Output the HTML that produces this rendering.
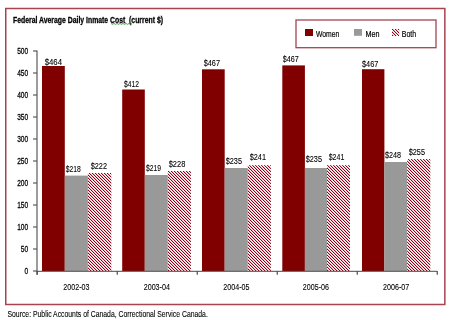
<!DOCTYPE html>
<html><head><meta charset="utf-8"><style>
html,body{margin:0;padding:0;background:#fff;width:450px;height:320px;overflow:hidden}
svg{display:block;will-change:transform}
text{font-family:"Liberation Sans",sans-serif}
</style></head><body>
<svg width="450" height="320" viewBox="0 0 450 320">
<defs>
<pattern id="hatch" patternUnits="userSpaceOnUse" width="3" height="3">
<rect width="3" height="3" fill="#ffffff"/>
<g shape-rendering="crispEdges">
<rect x="2" y="0" width="1" height="1" fill="#8c0018"/><rect x="0" y="1" width="1" height="1" fill="#8c0018"/><rect x="1" y="2" width="1" height="1" fill="#8c0018"/>
<rect x="0" y="0" width="1" height="1" fill="#eebcc1"/><rect x="1" y="1" width="1" height="1" fill="#eebcc1"/><rect x="2" y="2" width="1" height="1" fill="#eebcc1"/>
</g>
</pattern>
<pattern id="hatch2" href="#hatch" patternTransform="translate(1,0)"/>
</defs>
<rect x="5.75" y="8.5" width="439.1" height="296" fill="none" stroke="#a8434f" stroke-width="1.5"/>
<text x="13" y="22.6" stroke="#000" stroke-width="0.3" font-weight="bold" font-size="9" fill="#000" textLength="150" lengthAdjust="spacingAndGlyphs">Federal Average Daily Inmate Cost&#160; (current $)</text>
<path d="M111,23.5 L112.5,24.3 L114.0,23.5 L115.5,24.3 L117.0,23.5 L118.5,24.3 L120.0,23.5 L121.5,24.3 L123.0,23.5 L124.5,24.3 L126.0,23.5 L127.5,24.3 L129.0,23.5 L130.5,24.3 L132.0,23.5" fill="none" stroke="#3c963c" stroke-width="0.9"/>
<rect x="296" y="20" width="140" height="27.7" fill="none" stroke="#a04552" stroke-width="1.3"/>
<rect x="305" y="29" width="8" height="7" fill="#800000"/>
<rect x="354" y="29" width="8" height="6.8" fill="#999"/>
<rect x="392" y="29" width="7.2" height="7" fill="url(#hatch2)"/>
<text x="316" y="37" stroke="#000" stroke-width="0.18" font-size="8.4" textLength="23.3" lengthAdjust="spacingAndGlyphs">Women</text>
<text x="365.5" y="37" stroke="#000" stroke-width="0.18" font-size="8.4" textLength="14" lengthAdjust="spacingAndGlyphs">Men</text>
<text x="401.8" y="37" stroke="#000" stroke-width="0.18" font-size="8.4" textLength="14.4" lengthAdjust="spacingAndGlyphs">Both</text>
<line x1="37" y1="50.4" x2="37" y2="274.8" stroke="#5a5a5a" stroke-width="1.2"/>
<line x1="33" y1="51" x2="37" y2="51" stroke="#5a5a5a" stroke-width="1.2"/>
<text x="28.2" y="54.3" stroke="#000" stroke-width="0.26" font-size="8.6" text-anchor="end" textLength="11.0" lengthAdjust="spacingAndGlyphs">500</text>
<line x1="33" y1="73" x2="37" y2="73" stroke="#5a5a5a" stroke-width="1.2"/>
<text x="28.2" y="76.3" stroke="#000" stroke-width="0.26" font-size="8.6" text-anchor="end" textLength="11.0" lengthAdjust="spacingAndGlyphs">450</text>
<line x1="33" y1="95" x2="37" y2="95" stroke="#5a5a5a" stroke-width="1.2"/>
<text x="28.2" y="98.3" stroke="#000" stroke-width="0.26" font-size="8.6" text-anchor="end" textLength="11.0" lengthAdjust="spacingAndGlyphs">400</text>
<line x1="33" y1="117" x2="37" y2="117" stroke="#5a5a5a" stroke-width="1.2"/>
<text x="28.2" y="120.3" stroke="#000" stroke-width="0.26" font-size="8.6" text-anchor="end" textLength="11.0" lengthAdjust="spacingAndGlyphs">350</text>
<line x1="33" y1="139" x2="37" y2="139" stroke="#5a5a5a" stroke-width="1.2"/>
<text x="28.2" y="142.3" stroke="#000" stroke-width="0.26" font-size="8.6" text-anchor="end" textLength="11.0" lengthAdjust="spacingAndGlyphs">300</text>
<line x1="33" y1="161" x2="37" y2="161" stroke="#5a5a5a" stroke-width="1.2"/>
<text x="28.2" y="164.3" stroke="#000" stroke-width="0.26" font-size="8.6" text-anchor="end" textLength="11.0" lengthAdjust="spacingAndGlyphs">250</text>
<line x1="33" y1="183" x2="37" y2="183" stroke="#5a5a5a" stroke-width="1.2"/>
<text x="28.2" y="186.3" stroke="#000" stroke-width="0.26" font-size="8.6" text-anchor="end" textLength="11.0" lengthAdjust="spacingAndGlyphs">200</text>
<line x1="33" y1="205" x2="37" y2="205" stroke="#5a5a5a" stroke-width="1.2"/>
<text x="28.2" y="208.3" stroke="#000" stroke-width="0.26" font-size="8.6" text-anchor="end" textLength="11.0" lengthAdjust="spacingAndGlyphs">150</text>
<line x1="33" y1="227" x2="37" y2="227" stroke="#5a5a5a" stroke-width="1.2"/>
<text x="28.2" y="230.3" stroke="#000" stroke-width="0.26" font-size="8.6" text-anchor="end" textLength="11.0" lengthAdjust="spacingAndGlyphs">100</text>
<line x1="33" y1="249" x2="37" y2="249" stroke="#5a5a5a" stroke-width="1.2"/>
<text x="28.2" y="252.3" stroke="#000" stroke-width="0.26" font-size="8.6" text-anchor="end" textLength="7.4" lengthAdjust="spacingAndGlyphs">50</text>
<line x1="33" y1="271" x2="37" y2="271" stroke="#5a5a5a" stroke-width="1.2"/>
<text x="28.2" y="274.3" stroke="#000" stroke-width="0.26" font-size="8.6" text-anchor="end" textLength="3.7" lengthAdjust="spacingAndGlyphs">0</text>
<rect x="42" y="66" width="22.80" height="205.00" fill="#800000"/>
<rect x="64.8" y="175.6" width="23.10" height="95.40" fill="#999"/>
<rect x="87.9" y="173" width="23.40" height="98.00" fill="url(#hatch2)"/>
<text x="44.70" y="64.70" stroke="#000" stroke-width="0.1" font-size="8.4" textLength="17.30" lengthAdjust="spacingAndGlyphs">$464</text>
<text x="65.70" y="171.50" stroke="#000" stroke-width="0.1" font-size="8.4" textLength="15.05" lengthAdjust="spacingAndGlyphs">$218</text>
<text x="90.70" y="168.70" stroke="#000" stroke-width="0.1" font-size="8.4" textLength="16.30" lengthAdjust="spacingAndGlyphs">$222</text>
<text x="76.4" y="289.8" stroke="#000" stroke-width="0.1" font-size="9" text-anchor="middle" textLength="26.2" lengthAdjust="spacingAndGlyphs">2002-03</text>
<rect x="122.2" y="89.5" width="22.60" height="181.50" fill="#800000"/>
<rect x="144.8" y="175" width="23.00" height="96.00" fill="#999"/>
<rect x="167.8" y="171" width="23.10" height="100.00" fill="url(#hatch2)"/>
<text x="124.00" y="86.70" stroke="#000" stroke-width="0.1" font-size="8.4" textLength="15.00" lengthAdjust="spacingAndGlyphs">$412</text>
<text x="146.00" y="170.70" stroke="#000" stroke-width="0.1" font-size="8.4" textLength="15.00" lengthAdjust="spacingAndGlyphs">$219</text>
<text x="168.70" y="166.70" stroke="#000" stroke-width="0.1" font-size="8.4" textLength="16.60" lengthAdjust="spacingAndGlyphs">$228</text>
<text x="156.8" y="289.8" stroke="#000" stroke-width="0.1" font-size="9" text-anchor="middle" textLength="26.2" lengthAdjust="spacingAndGlyphs">2003-04</text>
<rect x="202" y="69.3" width="22.70" height="201.70" fill="#800000"/>
<rect x="224.7" y="168" width="23.10" height="103.00" fill="#999"/>
<rect x="247.8" y="165.2" width="23.10" height="105.80" fill="url(#hatch2)"/>
<text x="203.70" y="66.00" stroke="#000" stroke-width="0.1" font-size="8.4" textLength="16.30" lengthAdjust="spacingAndGlyphs">$467</text>
<text x="225.70" y="163.50" stroke="#000" stroke-width="0.1" font-size="8.4" textLength="16.30" lengthAdjust="spacingAndGlyphs">$235</text>
<text x="249.70" y="159.80" stroke="#000" stroke-width="0.1" font-size="8.4" textLength="16.30" lengthAdjust="spacingAndGlyphs">$241</text>
<text x="236.4" y="289.8" stroke="#000" stroke-width="0.1" font-size="9" text-anchor="middle" textLength="26.2" lengthAdjust="spacingAndGlyphs">2004-05</text>
<rect x="282.3" y="65.4" width="22.60" height="205.60" fill="#800000"/>
<rect x="304.9" y="168" width="22.10" height="103.00" fill="#999"/>
<rect x="327" y="165.2" width="23.00" height="105.80" fill="url(#hatch2)"/>
<text x="282.70" y="61.70" stroke="#000" stroke-width="0.1" font-size="8.4" textLength="16.00" lengthAdjust="spacingAndGlyphs">$467</text>
<text x="305.70" y="161.50" stroke="#000" stroke-width="0.1" font-size="8.4" textLength="16.30" lengthAdjust="spacingAndGlyphs">$235</text>
<text x="328.70" y="159.80" stroke="#000" stroke-width="0.1" font-size="8.4" textLength="15.60" lengthAdjust="spacingAndGlyphs">$241</text>
<text x="315.9" y="289.8" stroke="#000" stroke-width="0.1" font-size="9" text-anchor="middle" textLength="26.2" lengthAdjust="spacingAndGlyphs">2005-06</text>
<rect x="362" y="69.2" width="22.40" height="201.80" fill="#800000"/>
<rect x="384.4" y="162" width="22.80" height="109.00" fill="#999"/>
<rect x="407.2" y="159.1" width="23.10" height="111.90" fill="url(#hatch2)"/>
<text x="362.00" y="66.70" stroke="#000" stroke-width="0.1" font-size="8.4" textLength="16.30" lengthAdjust="spacingAndGlyphs">$467</text>
<text x="385.00" y="157.70" stroke="#000" stroke-width="0.1" font-size="8.4" textLength="16.00" lengthAdjust="spacingAndGlyphs">$248</text>
<text x="408.70" y="155.30" stroke="#000" stroke-width="0.1" font-size="8.4" textLength="16.30" lengthAdjust="spacingAndGlyphs">$255</text>
<text x="396.1" y="289.8" stroke="#000" stroke-width="0.1" font-size="9" text-anchor="middle" textLength="26.2" lengthAdjust="spacingAndGlyphs">2006-07</text>
<line x1="36.4" y1="271.3" x2="437" y2="271.3" stroke="#4a4a4a" stroke-width="1"/>
<line x1="37.25" y1="271" x2="37.25" y2="274.8" stroke="#4a4a4a" stroke-width="1.2"/>
<line x1="117.25" y1="271" x2="117.25" y2="274.8" stroke="#4a4a4a" stroke-width="1.2"/>
<line x1="197.25" y1="271" x2="197.25" y2="274.8" stroke="#4a4a4a" stroke-width="1.2"/>
<line x1="277.25" y1="271" x2="277.25" y2="274.8" stroke="#4a4a4a" stroke-width="1.2"/>
<line x1="357.25" y1="271" x2="357.25" y2="274.8" stroke="#4a4a4a" stroke-width="1.2"/>
<line x1="437.25" y1="271" x2="437.25" y2="274.8" stroke="#4a4a4a" stroke-width="1.2"/>
<text x="7.5" y="316.8" stroke="#000" stroke-width="0.1" font-size="8.4" textLength="200.3" lengthAdjust="spacingAndGlyphs">Source: Public Accounts of Canada, Correctional Service Canada.</text>
</svg>
</body></html>
